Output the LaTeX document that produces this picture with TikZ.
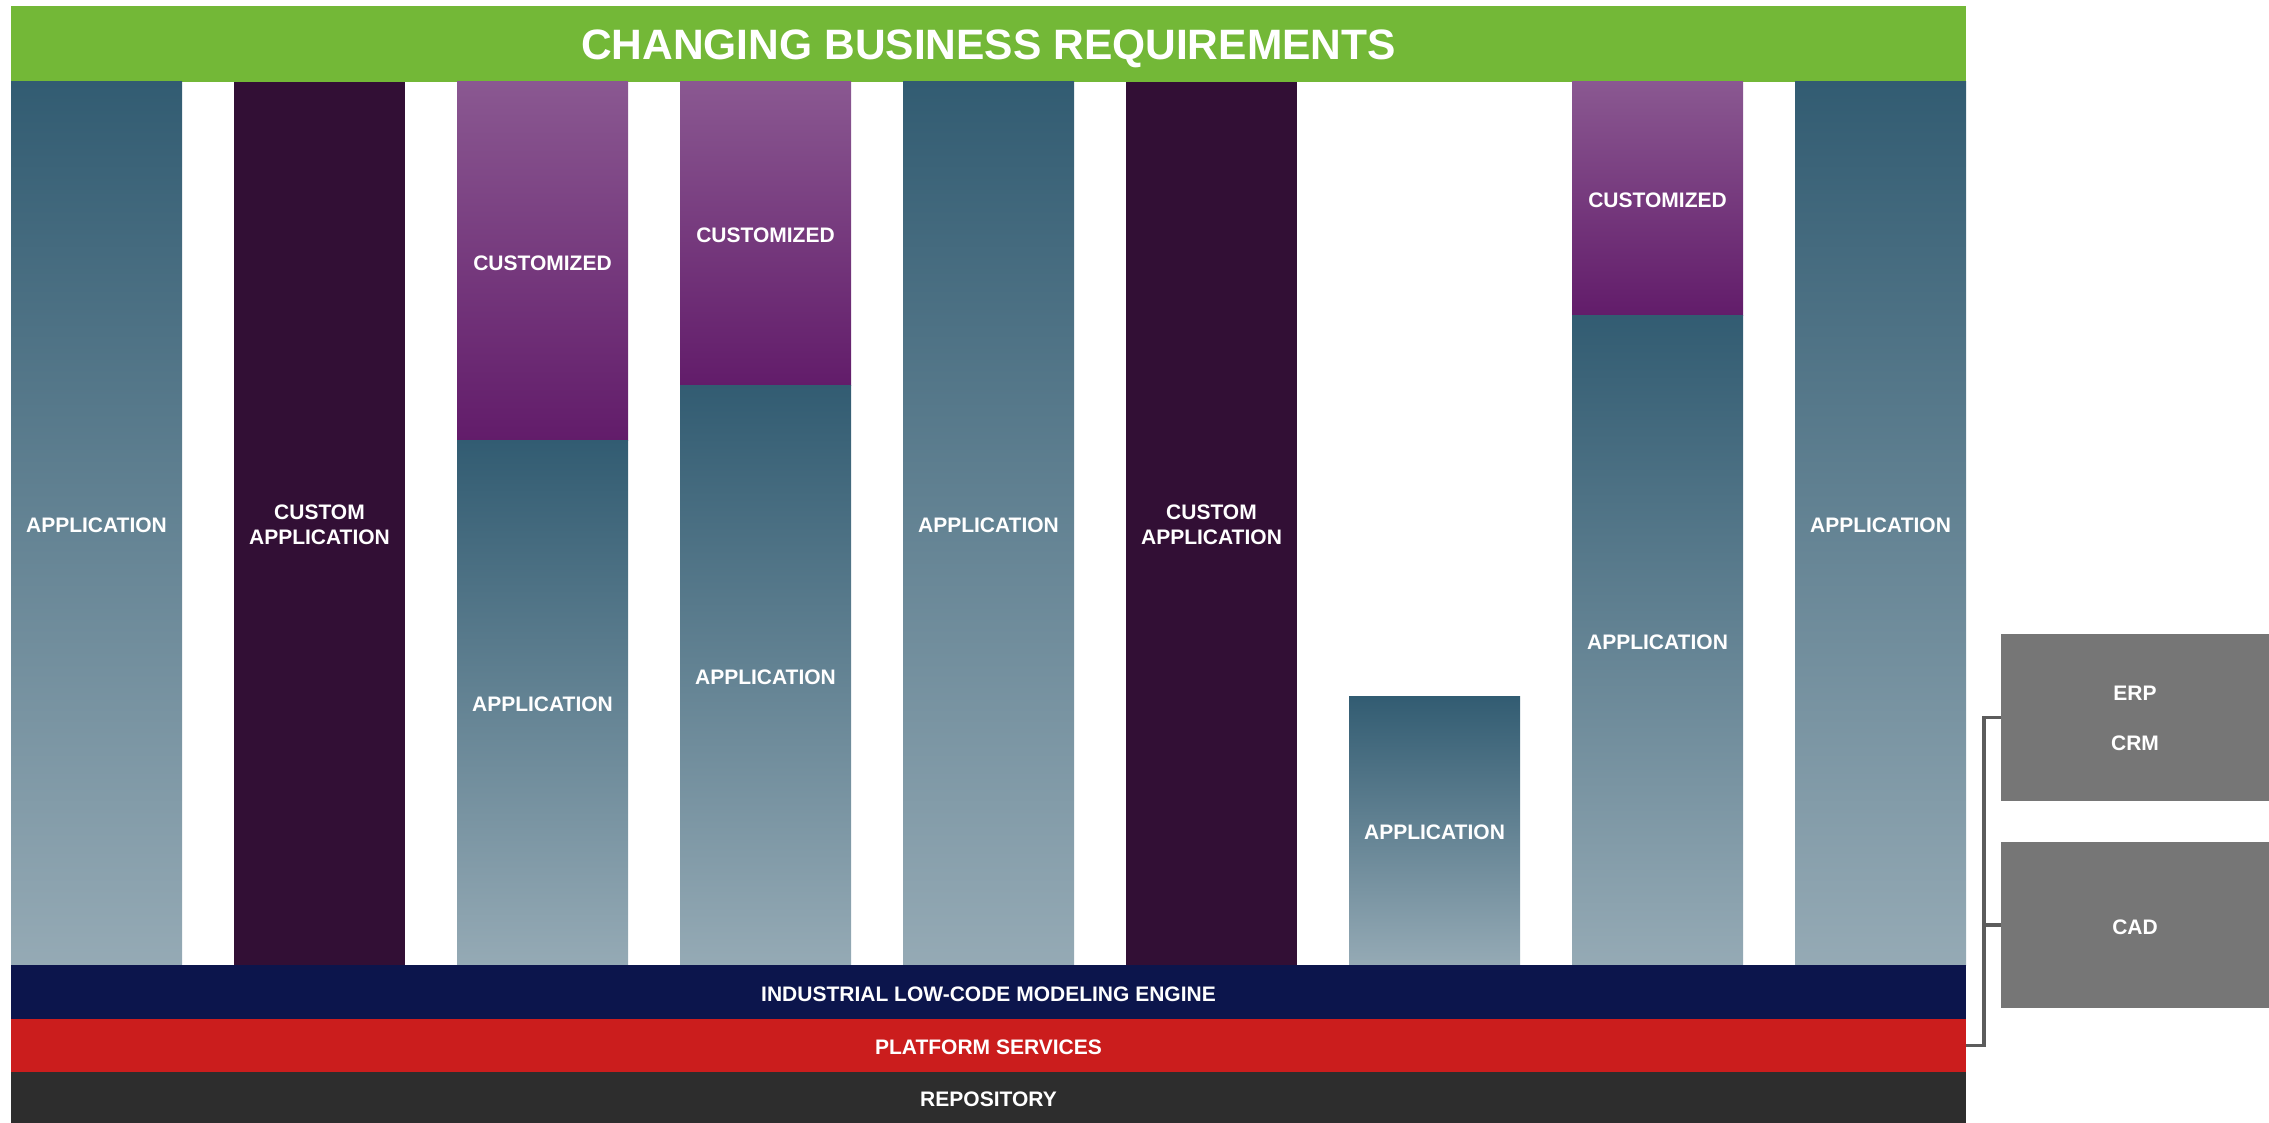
\documentclass[tikz,border=0pt]{standalone}
\usepackage{fontspec}
\setmainfont{Liberation Sans}
\usetikzlibrary{positioning}
\definecolor{bannergreen}{HTML}{73B837}
\definecolor{appTop}{HTML}{325C72}
\definecolor{appBot}{HTML}{95AAB5}
\definecolor{custApp}{HTML}{320F35}
\definecolor{cusTop}{HTML}{8A5891}
\definecolor{cusBot}{HTML}{621C6A}
\definecolor{engineBlue}{HTML}{0C154C}
\definecolor{platRed}{HTML}{CB1D1D}
\definecolor{repoGray}{HTML}{2D2D2D}
\definecolor{boxGray}{HTML}{767676}
\definecolor{lineGray}{HTML}{5C5C5C}
\begin{document}
\begin{tikzpicture}[x=1pt,y=-1pt,
  txt/.style={text=white, align=center, font=\fontsize{21}{24.5}\selectfont\bfseries},
  blk/.style={rectangle, inner sep=0pt, outer sep=0pt, minimum width=171pt, txt},
  oneline/.style={text height=18pt, text depth=0pt},
  twoline/.style={label={[txt, inner sep=0pt, yshift=-1.2pt]center:#1}},
  appblk/.style={blk, top color=appTop, bottom color=appBot, draw=none},
  cusblk/.style={blk, top color=cusTop, bottom color=cusBot, draw=none},
  customblk/.style={blk, fill=custApp},
  band/.style={rectangle, inner sep=0pt, outer sep=0pt, minimum width=1955pt, txt},
  sidebox/.style={rectangle, inner sep=0pt, outer sep=0pt, minimum width=268pt,
    fill=boxGray, txt},
  bracket/.style={draw=lineGray, line width=3.5pt}
]
\useasboundingbox (0,0) rectangle (2269,1123);
% banner
\node[band, fill=bannergreen, minimum height=76pt, text height=30.4pt, text depth=0pt,
  font=\fontsize{42.5}{48}\selectfont\bfseries] (banner) at (988.5,44) {CHANGING BUSINESS REQUIREMENTS};
% columns
\node[appblk, oneline, minimum height=883pt] (c1) at (96.5,523.5) {APPLICATION};
\node[customblk, minimum height=883pt, twoline={CUSTOM\\APPLICATION}] (c2) at (319.5,523.5) {};
\node[cusblk, oneline, minimum height=358pt] (c3a) at (542.5,261) {CUSTOMIZED};
\node[appblk, oneline, minimum height=525pt] (c3b) at (542.5,702.5) {APPLICATION};
\node[cusblk, oneline, minimum height=303pt] (c4a) at (765.5,233.5) {CUSTOMIZED};
\node[appblk, oneline, minimum height=580pt] (c4b) at (765.5,675) {APPLICATION};
\node[appblk, oneline, minimum height=883pt] (c5) at (988.5,523.5) {APPLICATION};
\node[customblk, minimum height=883pt, twoline={CUSTOM\\APPLICATION}] (c6) at (1211.5,523.5) {};
\node[appblk, oneline, minimum height=269pt] (c7) at (1434.5,830.5) {APPLICATION};
\node[cusblk, oneline, minimum height=233pt] (c8a) at (1657.5,198.5) {CUSTOMIZED};
\node[appblk, oneline, minimum height=650pt] (c8b) at (1657.5,640) {APPLICATION};
\node[appblk, oneline, minimum height=883pt] (c9) at (1880.5,523.5) {APPLICATION};
% bands
\node[band, oneline, fill=engineBlue, minimum height=54pt] (engine) at (988.5,992) {INDUSTRIAL LOW-CODE MODELING ENGINE};
\node[band, oneline, fill=platRed, minimum height=53pt] (plat) at (988.5,1045.5) {PLATFORM SERVICES};
\node[band, oneline, fill=repoGray, minimum height=51pt] (repo) at (988.5,1097.5) {REPOSITORY};
% side boxes
\node[sidebox, minimum height=167pt, twoline={ERP\\[25.5pt]CRM}] (erp) at (2135,717.5) {};
\node[sidebox, oneline, minimum height=166pt] (cad) at (2135,925) {CAD};
% bracket
\coordinate (bk) at (1984,1045.5);
\draw[bracket] (plat.east) -- (bk) |- (erp.west);
\draw[bracket] (bk) |- (cad.west);
\end{tikzpicture}
\end{document}
